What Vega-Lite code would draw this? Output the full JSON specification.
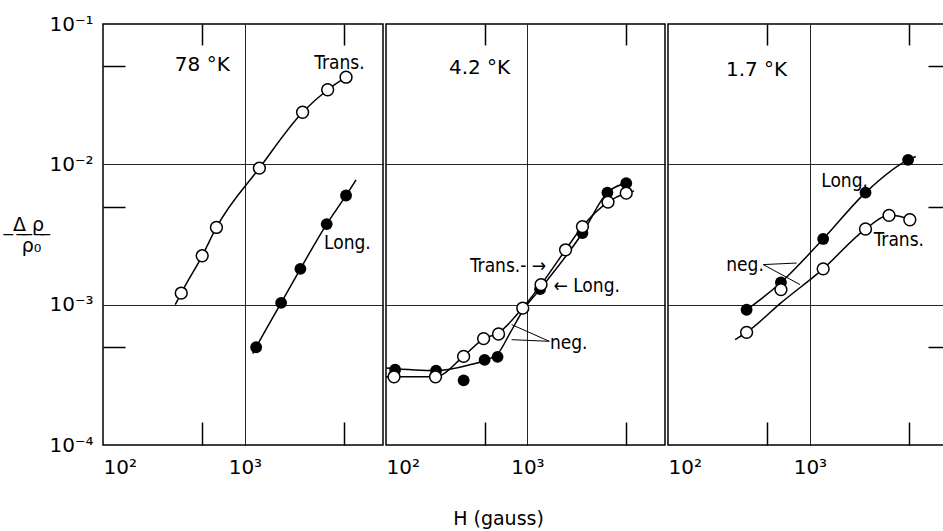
{
  "$schema": "https://vega.github.io/schema/vega-lite/v6.json",
  "padding": {"left": 11, "top": 13, "right": 0, "bottom": 0},
  "autosize": {"type": "pad"},
  "background": "white",
  "bounds": "flush",
  "spacing": 3,
  "config": {
    "view": {"stroke": "black", "strokeWidth": 1.5},
    "axis": {"domain": false, "grid": false, "labelFont": "DejaVu Sans", "labelFontSize": 20, "labelColor": "black", "tickColor": "black", "tickWidth": 1.5, "gridColor": "black", "gridOpacity": 0.85, "gridWidth": 1}
  },
  "datasets": {
    "pts": [
      {"panel": 1, "series": "Trans", "H": 5160, "r": 0.0418},
      {"panel": 1, "series": "Trans", "H": 3830, "r": 0.034},
      {"panel": 1, "series": "Trans", "H": 2550, "r": 0.0235},
      {"panel": 1, "series": "Trans", "H": 1265, "r": 0.0094},
      {"panel": 1, "series": "Trans", "H": 630, "r": 0.00355},
      {"panel": 1, "series": "Trans", "H": 500, "r": 0.00223},
      {"panel": 1, "series": "Trans", "H": 356, "r": 0.00121},
      {"panel": 1, "series": "Long", "H": 5160, "r": 0.006},
      {"panel": 1, "series": "Long", "H": 3770, "r": 0.00375},
      {"panel": 1, "series": "Long", "H": 2460, "r": 0.0018},
      {"panel": 1, "series": "Long", "H": 1800, "r": 0.00103},
      {"panel": 1, "series": "Long", "H": 1200, "r": 0.000497},
      {"panel": 2, "series": "Trans", "H": 114, "r": 0.000306},
      {"panel": 2, "series": "Trans", "H": 224, "r": 0.000306},
      {"panel": 2, "series": "Trans", "H": 354, "r": 0.000428},
      {"panel": 2, "series": "Trans", "H": 490, "r": 0.000573},
      {"panel": 2, "series": "Trans", "H": 625, "r": 0.000618},
      {"panel": 2, "series": "Trans", "H": 927, "r": 0.000946},
      {"panel": 2, "series": "Trans", "H": 1249, "r": 0.00139},
      {"panel": 2, "series": "Trans", "H": 1862, "r": 0.00246},
      {"panel": 2, "series": "Trans", "H": 2450, "r": 0.0036},
      {"panel": 2, "series": "Trans", "H": 3715, "r": 0.00538},
      {"panel": 2, "series": "Trans", "H": 5000, "r": 0.00624},
      {"panel": 2, "series": "Long", "H": 116, "r": 0.000344},
      {"panel": 2, "series": "Long", "H": 226, "r": 0.000339},
      {"panel": 2, "series": "Long", "H": 354, "r": 0.000289},
      {"panel": 2, "series": "Long", "H": 498, "r": 0.000404},
      {"panel": 2, "series": "Long", "H": 615, "r": 0.000425},
      {"panel": 2, "series": "Long", "H": 1229, "r": 0.00129},
      {"panel": 2, "series": "Long", "H": 2450, "r": 0.00324},
      {"panel": 2, "series": "Long", "H": 3680, "r": 0.00629},
      {"panel": 2, "series": "Long", "H": 5000, "r": 0.00734},
      {"panel": 3, "series": "Trans", "H": 358, "r": 0.000635},
      {"panel": 3, "series": "Trans", "H": 625, "r": 0.00128},
      {"panel": 3, "series": "Trans", "H": 1240, "r": 0.0018},
      {"panel": 3, "series": "Trans", "H": 2465, "r": 0.00346},
      {"panel": 3, "series": "Trans", "H": 3610, "r": 0.00433},
      {"panel": 3, "series": "Trans", "H": 5060, "r": 0.00403},
      {"panel": 3, "series": "Long", "H": 358, "r": 0.00092},
      {"panel": 3, "series": "Long", "H": 625, "r": 0.00144},
      {"panel": 3, "series": "Long", "H": 1240, "r": 0.00294},
      {"panel": 3, "series": "Long", "H": 2465, "r": 0.00629},
      {"panel": 3, "series": "Long", "H": 4920, "r": 0.01076}
    ],
    "curves": [
      {"panel": 1, "series": "Trans", "H": 323, "r": 0.001},
      {"panel": 1, "series": "Trans", "H": 356, "r": 0.00121},
      {"panel": 1, "series": "Trans", "H": 500, "r": 0.00223},
      {"panel": 1, "series": "Trans", "H": 630, "r": 0.00355},
      {"panel": 1, "series": "Trans", "H": 1265, "r": 0.0094},
      {"panel": 1, "series": "Trans", "H": 2550, "r": 0.0235},
      {"panel": 1, "series": "Trans", "H": 3830, "r": 0.034},
      {"panel": 1, "series": "Trans", "H": 5160, "r": 0.0418},
      {"panel": 1, "series": "Long", "H": 1135, "r": 0.000448},
      {"panel": 1, "series": "Long", "H": 1200, "r": 0.000497},
      {"panel": 1, "series": "Long", "H": 1800, "r": 0.00103},
      {"panel": 1, "series": "Long", "H": 2460, "r": 0.0018},
      {"panel": 1, "series": "Long", "H": 3770, "r": 0.00375},
      {"panel": 1, "series": "Long", "H": 5160, "r": 0.006},
      {"panel": 1, "series": "Long", "H": 6070, "r": 0.00776},
      {"panel": 2, "series": "Trans", "H": 100, "r": 0.000307},
      {"panel": 2, "series": "Trans", "H": 224, "r": 0.000307},
      {"panel": 2, "series": "Trans", "H": 354, "r": 0.00043},
      {"panel": 2, "series": "Trans", "H": 490, "r": 0.00057},
      {"panel": 2, "series": "Trans", "H": 625, "r": 0.00063},
      {"panel": 2, "series": "Trans", "H": 927, "r": 0.00095},
      {"panel": 2, "series": "Trans", "H": 1249, "r": 0.00139},
      {"panel": 2, "series": "Trans", "H": 1862, "r": 0.00246},
      {"panel": 2, "series": "Trans", "H": 2450, "r": 0.0036},
      {"panel": 2, "series": "Trans", "H": 3715, "r": 0.00538},
      {"panel": 2, "series": "Trans", "H": 5000, "r": 0.00624},
      {"panel": 2, "series": "Trans", "H": 5680, "r": 0.00647},
      {"panel": 2, "series": "Long", "H": 100, "r": 0.000354},
      {"panel": 2, "series": "Long", "H": 224, "r": 0.000339},
      {"panel": 2, "series": "Long", "H": 374, "r": 0.000368},
      {"panel": 2, "series": "Long", "H": 608, "r": 0.000441},
      {"panel": 2, "series": "Long", "H": 755, "r": 0.00063},
      {"panel": 2, "series": "Long", "H": 937, "r": 0.00092},
      {"panel": 2, "series": "Long", "H": 1229, "r": 0.00129},
      {"panel": 2, "series": "Long", "H": 2450, "r": 0.00324},
      {"panel": 2, "series": "Long", "H": 3680, "r": 0.00629},
      {"panel": 2, "series": "Long", "H": 5000, "r": 0.00734},
      {"panel": 3, "series": "Long", "H": 331, "r": 0.00087},
      {"panel": 3, "series": "Long", "H": 358, "r": 0.00092},
      {"panel": 3, "series": "Long", "H": 625, "r": 0.00144},
      {"panel": 3, "series": "Long", "H": 1240, "r": 0.00294},
      {"panel": 3, "series": "Long", "H": 2465, "r": 0.00629},
      {"panel": 3, "series": "Long", "H": 4920, "r": 0.01076},
      {"panel": 3, "series": "Long", "H": 5570, "r": 0.01137},
      {"panel": 3, "series": "Trans", "H": 297, "r": 0.000564},
      {"panel": 3, "series": "Trans", "H": 358, "r": 0.000635},
      {"panel": 3, "series": "Trans", "H": 625, "r": 0.00103},
      {"panel": 3, "series": "Trans", "H": 1240, "r": 0.0018},
      {"panel": 3, "series": "Trans", "H": 2465, "r": 0.00346},
      {"panel": 3, "series": "Trans", "H": 3610, "r": 0.00433},
      {"panel": 3, "series": "Trans", "H": 5060, "r": 0.00403},
      {"panel": 3, "series": "Trans", "H": 5490, "r": 0.00378}
    ],
    "labels": [
      {"panel": 1, "label": "Trans.", "H": 4634, "r": 0.0525},
      {"panel": 1, "label": "Long.", "H": 5273, "r": 0.00275},
      {"panel": 2, "label": "Trans.- →", "H": 730, "r": 0.0019},
      {"panel": 2, "label": "← Long.", "H": 2626, "r": 0.00136},
      {"panel": 2, "label": "neg.", "H": 1960, "r": 0.000537},
      {"panel": 3, "label": "neg.", "H": 349, "r": 0.00193},
      {"panel": 3, "label": "Long.", "H": 1755, "r": 0.00755},
      {"panel": 3, "label": "Trans.", "H": 4236, "r": 0.00287}
    ],
    "titles": [
      {"panel": 1, "label": "78 °K", "H": 501, "r": 0.0511},
      {"panel": 2, "label": "4.2 °K", "H": 459, "r": 0.0484},
      {"panel": 3, "label": "1.7  °K", "H": 421, "r": 0.0471}
    ],
    "arrows": [
      {"panel": 2, "H": 1429, "r": 0.000548, "H2": 774, "r2": 0.000721},
      {"panel": 2, "H": 1429, "r": 0.000548, "H2": 774, "r2": 0.000563},
      {"panel": 3, "H": 469, "r": 0.00193, "H2": 806, "r2": 0.00198},
      {"panel": 3, "H": 469, "r": 0.00193, "H2": 851, "r2": 0.00139}
    ]
  },
  "hconcat": [
    {
      "width": 280, "height": 421,
      "resolve": {"axis": {"x": "independent", "y": "independent"}},
      "layer": [
        {
          "data": {"name": "curves"},
          "transform": [{"filter": "datum.panel == 1"}],
          "mark": {"type": "line", "interpolate": "monotone", "color": "black", "strokeWidth": 1.5},
          "encoding": {
            "x": {"field": "H", "type": "quantitative", "scale": {"type": "log", "domain": [100, 9400], "nice": false},
              "axis": {"orient": "bottom", "values": [100, 1000], "labelExpr": "datum.value < 500 ? '10²' : '10³'", "ticks": false, "labelPadding": 12, "title": null}},
            "y": {"field": "r", "type": "quantitative", "scale": {"type": "log", "domain": [0.0001, 0.1], "nice": false},
              "axis": {"orient": "left", "values": [0.1, 0.01, 0.001, 0.0001], "labelExpr": "datum.value > 0.05 ? '10⁻¹' : datum.value > 0.005 ? '10⁻²' : datum.value > 0.0005 ? '10⁻³' : '10⁻⁴'", "ticks": false, "labelPadding": 10,
                "title": [" ̲Δ̲ ̲ρ̲ ̲", "ρ₀"], "titleAngle": 0, "titleAlign": "center", "titleBaseline": "middle", "titleX": -72, "titleY": 200, "titleLineHeight": 21, "titleFont": "DejaVu Sans", "titleFontSize": 19, "titleFontWeight": "normal", "titleColor": "black"}},
            "detail": {"field": "series"}
          }
        },
        {
          "data": {"name": "pts"},
          "transform": [{"filter": "datum.panel == 1 && datum.series == 'Long'"}],
          "mark": {"type": "point", "shape": "circle", "filled": true, "color": "black", "size": 140, "opacity": 1},
          "encoding": {
            "x": {"field": "H", "type": "quantitative", "axis": {"orient": "top", "values": [500, 5000], "tickSize": -21, "labels": false, "title": null}},
            "y": {"field": "r", "type": "quantitative", "axis": {"orient": "left", "values": [0.05, 0.005, 0.0005], "tickSize": -22, "labels": false, "title": null}}
          }
        },
        {
          "data": {"name": "pts"},
          "transform": [{"filter": "datum.panel == 1 && datum.series == 'Trans'"}],
          "mark": {"type": "point", "shape": "circle", "filled": true, "fill": "white", "stroke": "black", "strokeWidth": 1.5, "size": 140, "opacity": 1},
          "encoding": {
            "x": {"field": "H", "type": "quantitative", "axis": {"orient": "bottom", "values": [500, 5000], "tickSize": -23, "labels": false, "title": null}},
            "y": {"field": "r", "type": "quantitative", "axis": null}
          }
        },
        {
          "data": {"name": "labels"},
          "transform": [{"filter": "datum.panel == 1"}],
          "mark": {"type": "text", "font": "DejaVu Sans Condensed", "fontSize": 19, "color": "black", "align": "center", "baseline": "middle"},
          "encoding": {
            "x": {"field": "H", "type": "quantitative", "axis": {"orient": "bottom", "values": [1000], "grid": true, "ticks": false, "labels": false, "title": null}},
            "y": {"field": "r", "type": "quantitative", "axis": {"orient": "left", "values": [0.01, 0.001], "grid": true, "ticks": false, "labels": false, "title": null}},
            "text": {"field": "label"}
          }
        },
        {
          "data": {"name": "titles"},
          "transform": [{"filter": "datum.panel == 1"}],
          "mark": {"type": "text", "font": "DejaVu Sans", "fontSize": 20, "color": "black", "align": "center", "baseline": "middle"},
          "encoding": {
            "x": {"field": "H", "type": "quantitative", "axis": null},
            "y": {"field": "r", "type": "quantitative", "axis": null},
            "text": {"field": "label"}
          }
        }
      ]
    },
    {
      "width": 279, "height": 421,
      "resolve": {"axis": {"x": "independent", "y": "independent"}},
      "layer": [
        {
          "data": {"name": "curves"},
          "transform": [{"filter": "datum.panel == 2"}],
          "mark": {"type": "line", "interpolate": "monotone", "color": "black", "strokeWidth": 1.5},
          "encoding": {
            "x": {"field": "H", "type": "quantitative", "scale": {"type": "log", "domain": [100, 9400], "nice": false},
              "axis": {"orient": "bottom", "values": [100, 1000], "labelExpr": "datum.value < 500 ? '10²' : '10³'", "ticks": false, "labelPadding": 12,
                "title": "H (gauss)", "titleFont": "DejaVu Sans", "titleFontSize": 19, "titleFontWeight": "normal", "titleColor": "black", "titlePadding": 32, "titleX": 112, "titleAlign": "center"}},
            "y": {"field": "r", "type": "quantitative", "scale": {"type": "log", "domain": [0.0001, 0.1], "nice": false}, "axis": null},
            "detail": {"field": "series"}
          }
        },
        {
          "data": {"name": "arrows"},
          "transform": [{"filter": "datum.panel == 2"}],
          "mark": {"type": "rule", "color": "black", "strokeWidth": 1},
          "encoding": {
            "x": {"field": "H", "type": "quantitative", "axis": null},
            "y": {"field": "r", "type": "quantitative", "axis": null},
            "x2": {"field": "H2"},
            "y2": {"field": "r2"}
          }
        },
        {
          "data": {"name": "pts"},
          "transform": [{"filter": "datum.panel == 2 && datum.series == 'Long'"}],
          "mark": {"type": "point", "shape": "circle", "filled": true, "color": "black", "size": 140, "opacity": 1},
          "encoding": {
            "x": {"field": "H", "type": "quantitative", "axis": {"orient": "top", "values": [500, 5000], "tickSize": -21, "labels": false, "title": null}},
            "y": {"field": "r", "type": "quantitative", "axis": null}
          }
        },
        {
          "data": {"name": "pts"},
          "transform": [{"filter": "datum.panel == 2 && datum.series == 'Trans'"}],
          "mark": {"type": "point", "shape": "circle", "filled": true, "fill": "white", "stroke": "black", "strokeWidth": 1.5, "size": 140, "opacity": 1},
          "encoding": {
            "x": {"field": "H", "type": "quantitative", "axis": {"orient": "bottom", "values": [500, 5000], "tickSize": -23, "labels": false, "title": null}},
            "y": {"field": "r", "type": "quantitative", "axis": null}
          }
        },
        {
          "data": {"name": "labels"},
          "transform": [{"filter": "datum.panel == 2"}],
          "mark": {"type": "text", "font": "DejaVu Sans Condensed", "fontSize": 19, "color": "black", "align": "center", "baseline": "middle"},
          "encoding": {
            "x": {"field": "H", "type": "quantitative", "axis": {"orient": "bottom", "values": [1000], "grid": true, "ticks": false, "labels": false, "title": null}},
            "y": {"field": "r", "type": "quantitative", "axis": {"orient": "left", "values": [0.01, 0.001], "grid": true, "ticks": false, "labels": false, "title": null}},
            "text": {"field": "label"}
          }
        },
        {
          "data": {"name": "titles"},
          "transform": [{"filter": "datum.panel == 2"}],
          "mark": {"type": "text", "font": "DejaVu Sans", "fontSize": 20, "color": "black", "align": "center", "baseline": "middle"},
          "encoding": {
            "x": {"field": "H", "type": "quantitative", "axis": null},
            "y": {"field": "r", "type": "quantitative", "axis": null},
            "text": {"field": "label"}
          }
        }
      ]
    },
    {
      "width": 280, "height": 421,
      "resolve": {"axis": {"x": "independent", "y": "independent"}},
      "layer": [
        {
          "data": {"name": "curves"},
          "transform": [{"filter": "datum.panel == 3"}],
          "mark": {"type": "line", "interpolate": "monotone", "color": "black", "strokeWidth": 1.5},
          "encoding": {
            "x": {"field": "H", "type": "quantitative", "scale": {"type": "log", "domain": [100, 9400], "nice": false},
              "axis": {"orient": "bottom", "values": [100, 1000], "labelExpr": "datum.value < 500 ? '10²' : '10³'", "ticks": false, "labelPadding": 12, "title": null}},
            "y": {"field": "r", "type": "quantitative", "scale": {"type": "log", "domain": [0.0001, 0.1], "nice": false},
              "axis": {"orient": "right", "values": [0.05, 0.005, 0.0005], "tickSize": -20, "labels": false, "title": null}},
            "detail": {"field": "series"}
          }
        },
        {
          "data": {"name": "arrows"},
          "transform": [{"filter": "datum.panel == 3"}],
          "mark": {"type": "rule", "color": "black", "strokeWidth": 1},
          "encoding": {
            "x": {"field": "H", "type": "quantitative", "axis": null},
            "y": {"field": "r", "type": "quantitative", "axis": null},
            "x2": {"field": "H2"},
            "y2": {"field": "r2"}
          }
        },
        {
          "data": {"name": "pts"},
          "transform": [{"filter": "datum.panel == 3 && datum.series == 'Long'"}],
          "mark": {"type": "point", "shape": "circle", "filled": true, "color": "black", "size": 140, "opacity": 1},
          "encoding": {
            "x": {"field": "H", "type": "quantitative", "axis": {"orient": "top", "values": [500, 5000], "tickSize": -21, "labels": false, "title": null}},
            "y": {"field": "r", "type": "quantitative", "axis": null}
          }
        },
        {
          "data": {"name": "pts"},
          "transform": [{"filter": "datum.panel == 3 && datum.series == 'Trans'"}],
          "mark": {"type": "point", "shape": "circle", "filled": true, "fill": "white", "stroke": "black", "strokeWidth": 1.5, "size": 140, "opacity": 1},
          "encoding": {
            "x": {"field": "H", "type": "quantitative", "axis": {"orient": "bottom", "values": [500, 5000], "tickSize": -23, "labels": false, "title": null}},
            "y": {"field": "r", "type": "quantitative", "axis": null}
          }
        },
        {
          "data": {"name": "labels"},
          "transform": [{"filter": "datum.panel == 3"}],
          "mark": {"type": "text", "font": "DejaVu Sans Condensed", "fontSize": 19, "color": "black", "align": "center", "baseline": "middle"},
          "encoding": {
            "x": {"field": "H", "type": "quantitative", "axis": {"orient": "bottom", "values": [1000], "grid": true, "ticks": false, "labels": false, "title": null}},
            "y": {"field": "r", "type": "quantitative", "axis": {"orient": "left", "values": [0.01, 0.001], "grid": true, "ticks": false, "labels": false, "title": null}},
            "text": {"field": "label"}
          }
        },
        {
          "data": {"name": "titles"},
          "transform": [{"filter": "datum.panel == 3"}],
          "mark": {"type": "text", "font": "DejaVu Sans", "fontSize": 20, "color": "black", "align": "center", "baseline": "middle"},
          "encoding": {
            "x": {"field": "H", "type": "quantitative", "axis": null},
            "y": {"field": "r", "type": "quantitative", "axis": null},
            "text": {"field": "label"}
          }
        }
      ]
    }
  ]
}
